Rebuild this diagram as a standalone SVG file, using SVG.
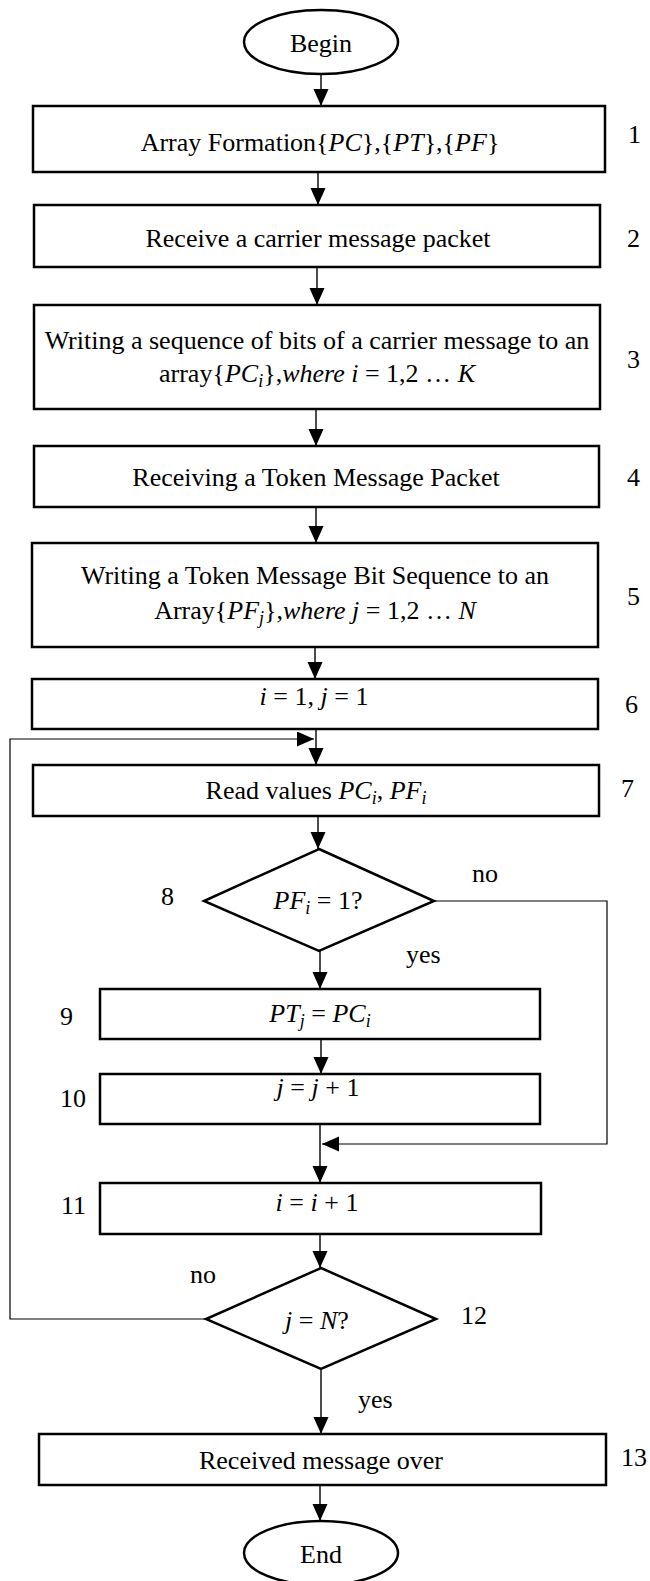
<svg xmlns="http://www.w3.org/2000/svg" width="650" height="1581" viewBox="0 0 650 1581">
<style>
.box{fill:#fff;stroke:#000;stroke-width:2.5}
.t{font-family:"Liberation Serif","Times New Roman",serif;font-size:26px;fill:#000;text-anchor:middle}
.lbl{font-family:"Liberation Serif","Times New Roman",serif;font-size:26px;fill:#000}
.m{font-style:italic}
.c{fill:none;stroke:#000;stroke-width:1.4}
.cl{fill:none;stroke:#000;stroke-width:1.2}
</style>
<defs>
<marker id="ah" markerUnits="userSpaceOnUse" markerWidth="18" markerHeight="16" refX="17" refY="7.5" orient="auto">
<path d="M0,0 L17,7.5 L0,15 z" fill="#000"/>
</marker>
</defs>
<g id="connectors">
<line class="c" x1="321" y1="75" x2="321" y2="106" marker-end="url(#ah)"/>
<line class="c" x1="318" y1="172" x2="318" y2="205" marker-end="url(#ah)"/>
<line class="c" x1="317" y1="267" x2="317" y2="305" marker-end="url(#ah)"/>
<line class="c" x1="316" y1="409" x2="316" y2="446" marker-end="url(#ah)"/>
<line class="c" x1="316" y1="507" x2="316" y2="543" marker-end="url(#ah)"/>
<line class="c" x1="315" y1="647" x2="315" y2="679" marker-end="url(#ah)"/>
<line class="c" x1="316" y1="729" x2="316" y2="765" marker-end="url(#ah)"/>
<line class="c" x1="318" y1="816" x2="318" y2="849" marker-end="url(#ah)"/>
<line class="c" x1="320" y1="951" x2="320" y2="989" marker-end="url(#ah)"/>
<line class="c" x1="321" y1="1039" x2="321" y2="1074" marker-end="url(#ah)"/>
<line class="c" x1="320" y1="1124" x2="320" y2="1183" marker-end="url(#ah)"/>
<line class="c" x1="320" y1="1234" x2="320" y2="1268" marker-end="url(#ah)"/>
<line class="c" x1="321" y1="1370" x2="321" y2="1434" marker-end="url(#ah)"/>
<line class="c" x1="320" y1="1485" x2="320" y2="1521" marker-end="url(#ah)"/>
<polyline class="cl" points="434,901 607,901 607,1144 322,1144" marker-end="url(#ah)"/>
<polyline class="cl" points="206,1319 10,1319 10,739 314,739" marker-end="url(#ah)"/>
</g>
<g id="begin">
<ellipse class="box" cx="321" cy="42" rx="77" ry="32"/>
<text class="t" x="321" y="52">Begin</text>
</g>
<g id="n1">
<rect class="box" x="33" y="106" width="572" height="66"/>
<text class="t" x="320" y="151">Array Formation{<tspan class="m">PC</tspan>},{<tspan class="m">PT</tspan>},{<tspan class="m">PF</tspan>}</text>
<text class="lbl" x="628" y="143">1</text>
</g>
<g id="n2">
<rect class="box" x="34" y="205" width="566" height="62"/>
<text class="t" x="318" y="247">Receive a carrier message packet</text>
<text class="lbl" x="627" y="247">2</text>
</g>
<g id="n3">
<rect class="box" x="34" y="305" width="566" height="104"/>
<text class="t" x="317" y="349">Writing a sequence of bits of a carrier message to an</text>
<text class="t" x="317" y="382">array{<tspan class="m">PC</tspan><tspan class="m" font-size="18" dy="5">i</tspan><tspan dy="-5">},</tspan><tspan class="m">where i</tspan> = 1,2 … <tspan class="m">K</tspan></text>
<text class="lbl" x="627" y="368">3</text>
</g>
<g id="n4">
<rect class="box" x="34" y="446" width="565" height="61"/>
<text class="t" x="316" y="486">Receiving a Token Message Packet</text>
<text class="lbl" x="627" y="486">4</text>
</g>
<g id="n5">
<rect class="box" x="32" y="543" width="566" height="104"/>
<text class="t" x="315" y="584">Writing a Token Message Bit Sequence to an</text>
<text class="t" x="315" y="619">Array{<tspan class="m">PF</tspan><tspan class="m" font-size="18" dy="5">j</tspan><tspan dy="-5">},</tspan><tspan class="m">where j</tspan> = 1,2 … <tspan class="m">N</tspan></text>
<text class="lbl" x="627" y="605">5</text>
</g>
<g id="n6">
<rect class="box" x="32" y="679" width="566" height="50"/>
<text class="t" x="314" y="705"><tspan class="m">i</tspan> = 1, <tspan class="m">j</tspan> = 1</text>
<text class="lbl" x="625" y="713">6</text>
</g>
<g id="n7">
<rect class="box" x="33" y="765" width="566" height="51"/>
<text class="t" x="316" y="799">Read values <tspan class="m">PC</tspan><tspan class="m" font-size="18" dy="5">i</tspan><tspan dy="-5">, </tspan><tspan class="m">PF</tspan><tspan class="m" font-size="18" dy="5">i</tspan></text>
<text class="lbl" x="621" y="797">7</text>
</g>
<g id="n8">
<polygon class="box" points="319,849 434,901 319,951 204,901"/>
<text class="t" x="318" y="909"><tspan class="m">PF</tspan><tspan class="m" font-size="18" dy="5">i</tspan><tspan dy="-5"> = 1?</tspan></text>
<text class="lbl" x="161" y="905">8</text>
<text class="lbl" x="472" y="882">no</text>
<text class="lbl" x="406" y="963">yes</text>
</g>
<g id="n9">
<rect class="box" x="100" y="989" width="440" height="50"/>
<text class="t" x="320" y="1022"><tspan class="m">PT</tspan><tspan class="m" font-size="18" dy="5">j</tspan><tspan dy="-5"> = </tspan><tspan class="m">PC</tspan><tspan class="m" font-size="18" dy="5">i</tspan></text>
<text class="lbl" x="60" y="1025">9</text>
</g>
<g id="n10">
<rect class="box" x="100" y="1074" width="440" height="50"/>
<text class="t" x="318" y="1096"><tspan class="m">j</tspan> = <tspan class="m">j</tspan> + 1</text>
<text class="lbl" x="60" y="1107">10</text>
</g>
<g id="n11">
<rect class="box" x="100" y="1183" width="441" height="51"/>
<text class="t" x="317" y="1211"><tspan class="m">i</tspan> = <tspan class="m">i</tspan> + 1</text>
<text class="lbl" x="61" y="1214">11</text>
</g>
<g id="n12">
<polygon class="box" points="321,1268 436,1319 321,1369 206,1319"/>
<text class="t" x="317" y="1329"><tspan class="m">j</tspan> = <tspan class="m">N</tspan>?</text>
<text class="lbl" x="190" y="1283">no</text>
<text class="lbl" x="461" y="1324">12</text>
<text class="lbl" x="358" y="1408">yes</text>
</g>
<g id="n13">
<rect class="box" x="39" y="1434" width="567" height="51"/>
<text class="t" x="321" y="1469">Received message over</text>
<text class="lbl" x="621" y="1466">13</text>
</g>
<g id="end">
<ellipse class="box" cx="321" cy="1553" rx="77" ry="32"/>
<text class="t" x="321" y="1563">End</text>
</g>
</svg>
